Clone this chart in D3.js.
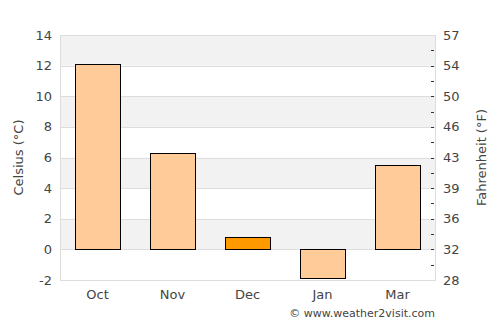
<!DOCTYPE html>
<html>
<head>
<meta charset="utf-8">
<script src="https://cdn.jsdelivr.net/npm/d3@7"></script>
<style>
  body { margin: 0; background: #fff; }
  svg text { font-family: "DejaVu Sans", sans-serif; fill: #444; }
</style>
</head>
<body>
<div id="chart"></div>
<script>
const months = ['Oct', 'Nov', 'Dec', 'Jan', 'Mar'];
const celsius = [12.1, 6.3, 0.8, -1.9, 5.5];
const highlighted = ['Dec'];
const celsiusTicks = [-2, 0, 2, 4, 6, 8, 10, 12, 14];
const fahrenheitLabels = ['28', '32', '36', '39', '43', '46', '50', '54', '57'];

const W = 500, H = 325;
const margin = { top: 35, right: 65, bottom: 45, left: 60 };
const width = W - margin.left - margin.right;
const height = H - margin.top - margin.bottom;

const svg = d3.select('#chart').append('svg')
    .attr('width', W)
    .attr('height', H);

const g = svg.append('g')
    .attr('transform', `translate(${margin.left},${margin.top})`);

const x = d3.scaleBand()
    .domain(months)
    .range([0, width])
    .paddingInner(0.4)
    .paddingOuter(0.2);

const y = d3.scaleLinear()
    .domain([-2, 14])
    .range([height, 0]);

// alternating stripes, gray on 0-2, 4-6, 8-10, 12-14
for (let i = 0; i < celsiusTicks.length - 1; i++) {
    let lo = celsiusTicks[i], hi = celsiusTicks[i + 1];
    g.append('rect')
        .attr('x', 0)
        .attr('y', y(hi))
        .attr('width', width)
        .attr('height', y(lo) - y(hi))
        .style('fill', (i % 2 === 1) ? '#f2f2f2' : '#fff');
}

// grid lines
g.selectAll('line.grid')
    .data(celsiusTicks)
    .enter()
    .append('line')
    .attr('class', 'grid')
    .attr('x1', 0)
    .attr('x2', width)
    .attr('y1', (d) => Math.round(y(d)) + 0.5)
    .attr('y2', (d) => Math.round(y(d)) + 0.5)
    .style('stroke', '#dddddd');

// plot frame
g.append('rect')
    .attr('x', 0.5)
    .attr('y', 0.5)
    .attr('width', width)
    .attr('height', height)
    .style('fill', 'none')
    .style('stroke', '#dddddd');

// bars
g.selectAll('rect.bar')
    .data(months)
    .enter()
    .append('rect')
    .attr('class', 'bar')
    .attr('x', (d) => Math.round(x(d)) + 0.5)
    .attr('y', (d, i) => Math.round(y(Math.max(0, celsius[i]))) + 0.5)
    .attr('width', x.bandwidth())
    .attr('height', (d, i) => Math.round(Math.abs(y(celsius[i]) - y(0))))
    .style('fill', (d) => highlighted.includes(d) ? '#ff9900' : '#ffcc99')
    .style('stroke', '#000')
    .style('stroke-width', 1);

// left axis labels
g.selectAll('text.ly')
    .data(celsiusTicks)
    .enter()
    .append('text')
    .attr('class', 'ly')
    .attr('x', -8)
    .attr('y', (d) => y(d))
    .attr('dy', '0.35em')
    .attr('text-anchor', 'end')
    .style('font-size', '13px')
    .text((d) => d);

// right axis: minor ticks every degree, labels in Fahrenheit
let minor = d3.range(-1, 14);
g.selectAll('line.rt')
    .data(minor)
    .enter()
    .append('line')
    .attr('class', 'rt')
    .attr('x1', width - 4)
    .attr('x2', width - 1)
    .attr('y1', (d) => Math.round(y(d)) + 0.5)
    .attr('y2', (d) => Math.round(y(d)) + 0.5)
    .style('stroke', '#333');

g.selectAll('text.ry')
    .data(celsiusTicks)
    .enter()
    .append('text')
    .attr('class', 'ry')
    .attr('x', width + 8)
    .attr('y', (d) => y(d))
    .attr('dy', '0.35em')
    .attr('text-anchor', 'start')
    .style('font-size', '13px')
    .text((d, i) => fahrenheitLabels[i]);

// x labels
g.selectAll('text.xl')
    .data(months)
    .enter()
    .append('text')
    .attr('class', 'xl')
    .attr('x', (d) => x(d) + x.bandwidth() / 2)
    .attr('y', height + 19)
    .attr('text-anchor', 'middle')
    .style('font-size', '13px')
    .text((d) => d);

// axis titles
svg.append('text')
    .attr('transform', `translate(23,${margin.top + height / 2}) rotate(-90)`)
    .attr('text-anchor', 'middle')
    .style('font-size', '13px')
    .text('Celsius (°C)');

svg.append('text')
    .attr('transform', `translate(486,${margin.top + height / 2}) rotate(-90)`)
    .attr('text-anchor', 'middle')
    .style('font-size', '13px')
    .text('Fahrenheit (°F)');

// credit
svg.append('text')
    .attr('x', margin.left + width)
    .attr('y', 317)
    .attr('text-anchor', 'end')
    .style('font-size', '11px')
    .text('© www.weather2visit.com');
</script>
</body>
</html>
